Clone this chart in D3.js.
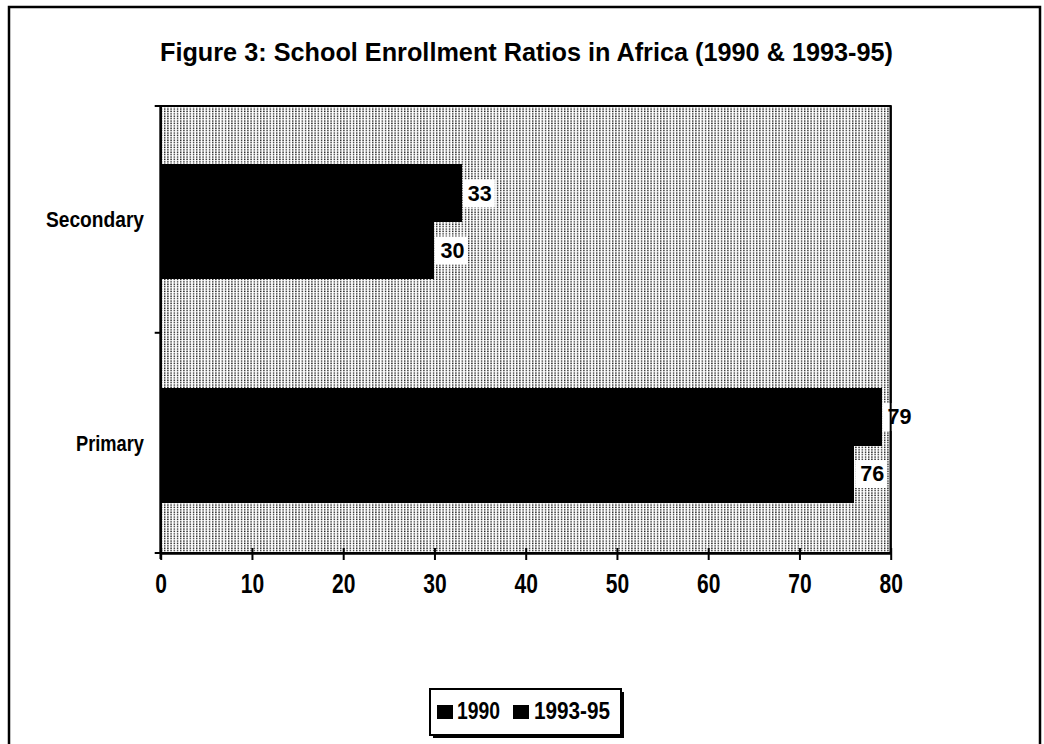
<!DOCTYPE html>
<html>
<head>
<meta charset="utf-8">
<script src="https://cdn.jsdelivr.net/npm/d3@7"></script>
<style>
  body { margin: 0; background: #fff; }
  svg text { font-family: "Liberation Sans", Arial, sans-serif; font-weight: bold; fill: #000; }
</style>
</head>
<body>
<svg id="chart" width="1044" height="744"></svg>
<script>

// data
const title      = 'Figure 3: School Enrollment Ratios in Africa (1990 & 1993-95)';
const categories = ['Secondary', 'Primary'];
const seriesNames = ['1990', '1993-95'];
const values1990   = [30, 76];
const values199395 = [33, 79];
const xTicks = [0, 10, 20, 30, 40, 50, 60, 70, 80];

const series = [
  { name: seriesNames[0], values: values1990 },
  { name: seriesNames[1], values: values199395 }
];

const svg = d3.select('#chart');

const plot = { left: 160.7, right: 890.7, top: 106, bottom: 553 };

// stretch text horizontally/vertically like the scan
function fit(sel, len) {
  return sel.attr('textLength', len).attr('lengthAdjust', 'spacingAndGlyphs');
}

// dotted halftone fill
const defs = svg.append('defs');
const pat = defs.append('pattern')
  .attr('id', 'dots')
  .attr('patternUnits', 'userSpaceOnUse')
  .attr('width', 3.2)
  .attr('height', 2.4);
pat.append('rect').attr('width', 3.2).attr('height', 2.4).attr('fill', '#fff');
pat.append('rect').attr('x', 0.8).attr('y', 0.4).attr('width', 1.4).attr('height', 1.3).attr('fill', '#111');

// outer frame
svg.append('rect')
  .attr('x', 9).attr('y', 7)
  .attr('width', 1031).attr('height', 760)
  .attr('fill', 'none')
  .attr('stroke', '#000')
  .attr('stroke-width', 2.5);

// title
fit(svg.append('text')
  .attr('x', 526.5)
  .attr('y', 61)
  .attr('text-anchor', 'middle')
  .style('font-size', '25px')
  .text(title), 733);

const x = d3.scaleLinear()
  .domain([0, 80])
  .range([plot.left, plot.right]);

const y = d3.scaleBand()
  .domain(categories)
  .range([plot.top, plot.bottom])
  .paddingInner(0.49)
  .paddingOuter(0.245)
  .align(0.53);

// top bar = 1993-95, bottom bar = 1990 (Excel order)
const yInner = d3.scaleBand()
  .domain([seriesNames[1], seriesNames[0]])
  .range([0, y.bandwidth()]);

// plot background
svg.append('rect')
  .attr('x', plot.left).attr('y', plot.top)
  .attr('width', plot.right - plot.left)
  .attr('height', plot.bottom - plot.top)
  .attr('fill', 'url(#dots)')
  .attr('stroke', '#000')
  .attr('stroke-width', 2);

// bars
series.forEach((s) => {
  const g = svg.append('g').classed('series', true);

  g.selectAll('rect')
    .data(categories)
    .join('rect')
    .attr('x', x(0))
    .attr('y', (c) => Math.round(y(c) + yInner(s.name)))
    .attr('width', (c, i) => x(s.values[i]) - x(0))
    .attr('height', Math.round(yInner.bandwidth()) + 1)
    .attr('shape-rendering', 'crispEdges')
    .attr('fill', '#000');
});

// value labels on white patches
series.forEach((s) => {
  categories.forEach((c, i) => {
    const v  = s.values[i],
          xe = x(v),
          cy = y(c) + yInner(s.name) + yInner.bandwidth() / 2;

    svg.append('rect')
      .attr('x', xe + 1)
      .attr('y', cy - 13)
      .attr('width', 32)
      .attr('height', 28)
      .attr('fill', '#fff');

    fit(svg.append('text')
      .attr('x', xe + 6)
      .attr('y', cy + 8)
      .style('font-size', '22px')
      .text(v), 24);
  });
});

// redraw right border over label patches
svg.append('line')
  .attr('x1', plot.right).attr('x2', plot.right)
  .attr('y1', plot.top).attr('y2', plot.bottom)
  .attr('stroke', '#000')
  .attr('stroke-width', 2);

// x axis
const xAxis = svg.append('g')
  .attr('transform', `translate(0,${plot.bottom})`)
  .call(d3.axisBottom(x).tickValues(xTicks).tickSizeInner(7).tickSizeOuter(0).tickPadding(14));

xAxis.select('.domain').attr('stroke', '#000').attr('stroke-width', 2.5);
xAxis.selectAll('.tick line').attr('y1', -5).attr('stroke', '#000').attr('stroke-width', 2);
xAxis.selectAll('.tick text')
  .style('font-size', '27px')
  .attr('dy', '0.71em')
  .each(function (d) {
    fit(d3.select(this), String(d).length * 11.7);
  });

// y axis
svg.append('line')
  .attr('x1', plot.left).attr('x2', plot.left)
  .attr('y1', plot.top).attr('y2', plot.bottom + 6)
  .attr('stroke', '#000')
  .attr('stroke-width', 2.5);

const step = y.step();
[plot.top, (y(categories[0]) + y.bandwidth() + y(categories[1])) / 2, plot.bottom].forEach((ty) => {
  svg.append('line')
    .attr('x1', plot.left - 6).attr('x2', plot.left)
    .attr('y1', ty).attr('y2', ty)
    .attr('stroke', '#000')
    .attr('stroke-width', 2);
});

const catWidths = { Secondary: 98, Primary: 68 };

categories.forEach((c) => {
  fit(svg.append('text')
    .attr('x', 144)
    .attr('y', y(c) + y.bandwidth() / 2 + 6)
    .attr('text-anchor', 'end')
    .style('font-size', '22px')
    .text(c), catWidths[c]);
});

// legend
const legend = svg.append('g').attr('transform', 'translate(430,689)');

legend.append('rect')
  .attr('x', 3).attr('y', 3)
  .attr('width', 191).attr('height', 46)
  .attr('fill', '#000');

legend.append('rect')
  .attr('width', 191).attr('height', 46)
  .attr('fill', '#fff')
  .attr('stroke', '#000')
  .attr('stroke-width', 2);

const legendItems = [
  { name: seriesNames[0], sx: 7,  tx: 27,  w: 43 },
  { name: seriesNames[1], sx: 83, tx: 104, w: 76 }
];

legendItems.forEach((it) => {
  legend.append('rect')
    .attr('x', it.sx).attr('y', 16)
    .attr('width', 16).attr('height', 14)
    .attr('fill', '#000');

  fit(legend.append('text')
    .attr('x', it.tx)
    .attr('y', 30)
    .style('font-size', '23px')
    .text(it.name), it.w);
});

</script>
</body>
</html>
